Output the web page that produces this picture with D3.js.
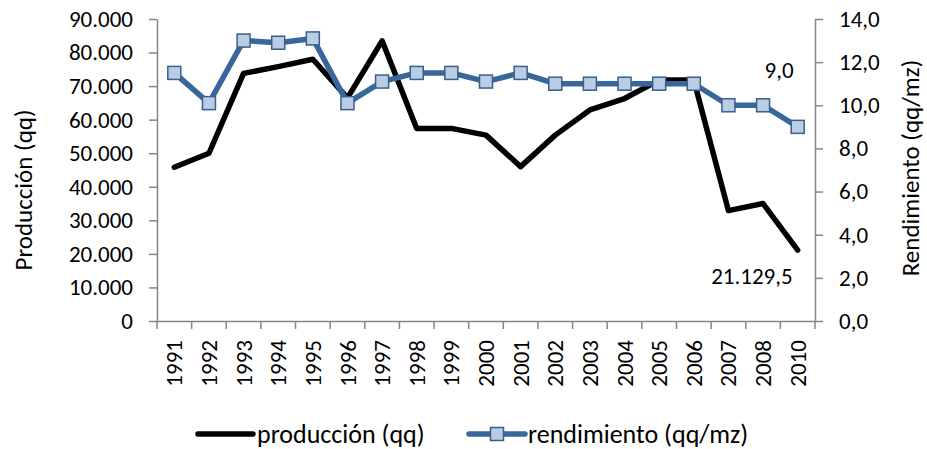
<!DOCTYPE html>
<html>
<head>
<meta charset="utf-8">
<script src="https://cdn.jsdelivr.net/npm/d3@7"></script>
<style>
  body { margin: 0; background: #fff; }
  text { font-family: Carlito, Calibri, Lato, sans-serif; fill: #000; }
</style>
</head>
<body>
<div id="chart"></div>
<script>
const years = ["1991","1992","1993","1994","1995","1996","1997","1998","1999","2000",
               "2001","2002","2003","2004","2005","2006","2007","2008","2010"];
const produccion = [45800, 50000, 73800, 75800, 78000, 66500, 83500, 57400, 57400, 55400,
                    46000, 55400, 62900, 66300, 71800, 71800, 32900, 35000, 21129.5];
const rendimiento = [11.5, 10.1, 13.0, 12.9, 13.1, 10.1, 11.1, 11.5, 11.5, 11.1,
                     11.5, 11.0, 11.0, 11.0, 11.0, 11.0, 10.0, 10.0, 9.0];
const prodTicks = [0, 10000, 20000, 30000, 40000, 50000, 60000, 70000, 80000, 90000];
const rendTicks = [0, 2, 4, 6, 8, 10, 12, 14];

const width = 927, height = 449;
const plot = {left: 157, right: 815, top: 19, bottom: 321};
const axisColor = "#868686";
const blue = "#3A679B";
const numSize = "23px", wordSize = "25px";

const es = d3.formatLocale({decimal: ",", thousands: ".", grouping: [3], currency: ["", ""]});
const fmtInt = es.format(",.0f");
const fmt1 = es.format(",.1f");

const svg = d3.select("#chart").append("svg")
    .attr("width", width)
    .attr("height", height);

const x = d3.scaleBand()
    .domain(years)
    .range([plot.left, plot.right]);

const yL = d3.scaleLinear()
    .domain([0, 90000])
    .range([plot.bottom, plot.top]);

const yR = d3.scaleLinear()
    .domain([0, 14])
    .range([plot.bottom, plot.top]);

const cx = d => x(d) + x.bandwidth() / 2;

// left axis
svg.append("g")
    .attr("class", "y axis")
    .attr("transform", "translate(" + plot.left + ",0)")
    .call(d3.axisLeft(yL).tickValues(prodTicks).tickFormat(fmtInt)
        .tickSizeInner(8).tickSizeOuter(0).tickPadding(16))
    .selectAll("text").style("font-size", numSize);

// right axis
svg.append("g")
    .attr("class", "y axis")
    .attr("transform", "translate(" + plot.right + ",0)")
    .call(d3.axisRight(yR).tickValues(rendTicks).tickFormat(fmt1)
        .tickSizeInner(8).tickSizeOuter(0).tickPadding(16))
    .selectAll("text").style("font-size", numSize);

// x axis: labels at band centres, ticks at band edges
const xAxis = svg.append("g")
    .attr("class", "x axis")
    .attr("transform", "translate(0," + plot.bottom + ")")
    .call(d3.axisBottom(x).tickSize(0).tickSizeOuter(0));

xAxis.selectAll("text")
    .style("font-size", numSize)
    .attr("text-anchor", "end")
    .attr("transform", "rotate(-90)")
    .attr("x", -19)
    .attr("y", 0)
    .attr("dy", "0.35em");

const edges = years.map(d => x(d)).concat([plot.right]);
xAxis.selectAll(".edge")
    .data(edges)
    .enter().append("line")
    .attr("class", "edge")
    .attr("x1", d => d).attr("x2", d => d)
    .attr("y1", 0).attr("y2", 8);

svg.selectAll(".domain, .axis line")
    .attr("stroke", axisColor)
    .attr("stroke-width", 1.5);

// axis titles
svg.append("text")
    .attr("transform", "translate(23,190) rotate(-90)")
    .attr("text-anchor", "middle")
    .attr("dy", "0.35em")
    .style("font-size", wordSize)
    .text("Producción (qq)");

svg.append("text")
    .attr("transform", "translate(910,168) rotate(-90)")
    .attr("text-anchor", "middle")
    .attr("dy", "0.35em")
    .style("font-size", wordSize)
    .text("Rendimiento (qq/mz)");

// produccion line
const prodData = years.map((d, i) => ({year: d, value: produccion[i]}));
const rendData = years.map((d, i) => ({year: d, value: rendimiento[i]}));

svg.append("path")
    .datum(prodData)
    .attr("fill", "none")
    .attr("stroke", "#000")
    .attr("stroke-width", 5.5)
    .attr("stroke-linejoin", "round")
    .attr("stroke-linecap", "round")
    .attr("d", d3.line().x(d => cx(d.year)).y(d => yL(d.value)));

// rendimiento line + markers
svg.append("path")
    .datum(rendData)
    .attr("fill", "none")
    .attr("stroke", blue)
    .attr("stroke-width", 5.5)
    .attr("stroke-linejoin", "round")
    .attr("stroke-linecap", "round")
    .attr("d", d3.line().x(d => cx(d.year)).y(d => yR(d.value)));

const ms = 13;
svg.append("g")
    .selectAll("rect")
    .data(rendData)
    .enter().append("rect")
    .attr("x", d => cx(d.year) - ms / 2)
    .attr("y", d => yR(d.value) - ms / 2)
    .attr("width", ms)
    .attr("height", ms)
    .attr("fill", "#B9CDE5")
    .attr("stroke", "#3A5F8C")
    .attr("stroke-width", 1.5);

// data labels on last point
const last = years.length - 1;
svg.append("text")
    .attr("x", cx(years[last]) - 4)
    .attr("y", yR(rendimiento[last]) - 57)
    .attr("text-anchor", "end")
    .attr("dy", "0.35em")
    .style("font-size", numSize)
    .text(fmt1(rendimiento[last]));

svg.append("text")
    .attr("x", cx(years[last]) - 5)
    .attr("y", yL(produccion[last]) + 26)
    .attr("text-anchor", "end")
    .attr("dy", "0.35em")
    .style("font-size", numSize)
    .text(fmt1(produccion[last]));

// legend
const ly = 434;
const legend = svg.append("g");
legend.append("line")
    .attr("x1", 198).attr("x2", 253)
    .attr("y1", ly).attr("y2", ly)
    .attr("stroke", "#000").attr("stroke-width", 5.5)
    .attr("stroke-linecap", "round");
legend.append("text")
    .attr("x", 257).attr("y", ly)
    .attr("dy", "0.35em")
    .style("font-size", "26px")
    .text("producción (qq)");
legend.append("line")
    .attr("x1", 469).attr("x2", 525)
    .attr("y1", ly).attr("y2", ly)
    .attr("stroke", blue).attr("stroke-width", 5.5)
    .attr("stroke-linecap", "round");
legend.append("rect")
    .attr("x", 497 - ms / 2).attr("y", ly - ms / 2)
    .attr("width", ms).attr("height", ms)
    .attr("fill", "#B9CDE5")
    .attr("stroke", "#3A5F8C")
    .attr("stroke-width", 1.5);
legend.append("text")
    .attr("x", 528).attr("y", ly)
    .attr("dy", "0.35em")
    .style("font-size", "26px")
    .text("rendimiento (qq/mz)");
</script>
</body>
</html>
